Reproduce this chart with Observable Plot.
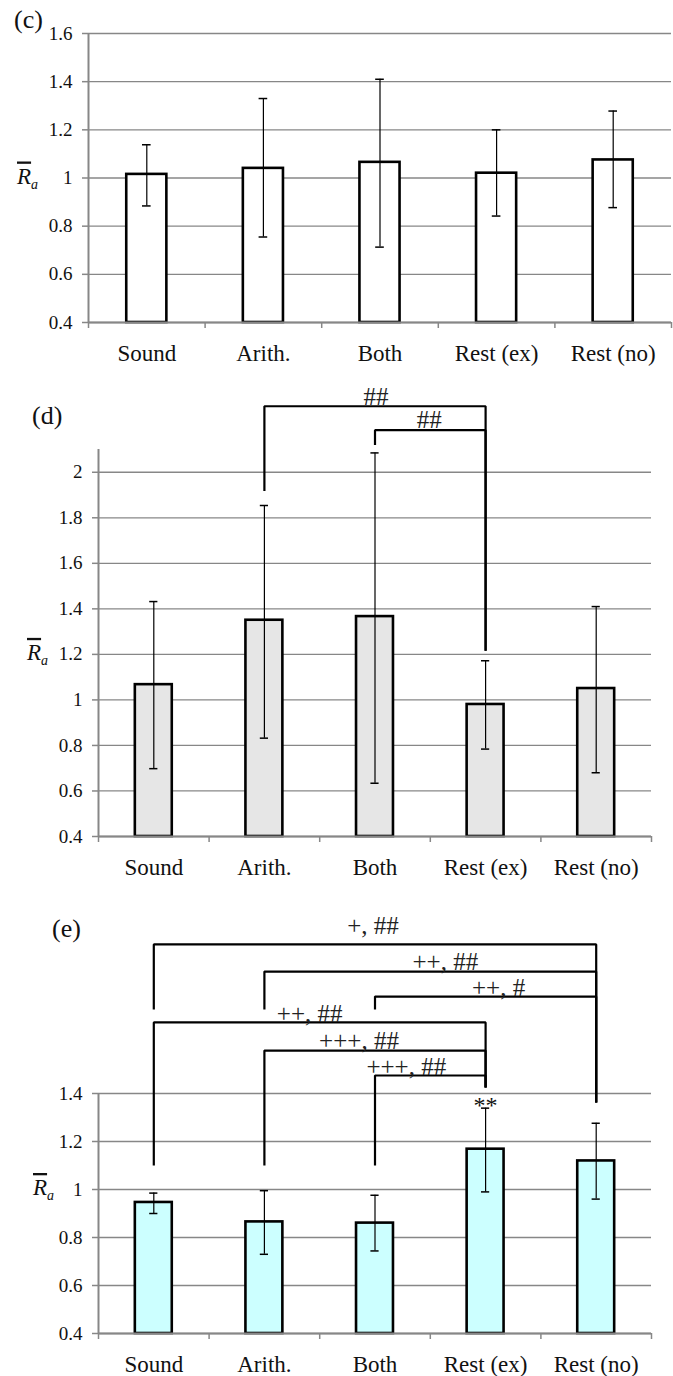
<!DOCTYPE html>
<html>
<head>
<meta charset="utf-8">
<script src="https://cdn.jsdelivr.net/npm/d3@7"></script>
<script src="https://cdn.jsdelivr.net/npm/@observablehq/plot@0.6"></script>
<style>
  body { margin: 0; background: #fff; }
  #chart { width: 673px; }
  #chart svg { display: block; }
</style>
</head>
<body>
<div id="chart"></div>
<script>
// ---------- data ----------
const categories = ["Sound", "Arith.", "Both", "Rest (ex)", "Rest (no)"];

// panel (c)
const meanC = [1.015, 1.040, 1.065, 1.020, 1.075];
const lowC  = [0.884, 0.755, 0.713, 0.842, 0.877];
const highC = [1.138, 1.330, 1.410, 1.200, 1.278];
const ticksC = [0.4, 0.6, 0.8, 1, 1.2, 1.4, 1.6];

// panel (d)
const meanD = [1.067, 1.350, 1.366, 0.980, 1.050];
const lowD  = [0.698, 0.832, 0.634, 0.784, 0.680];
const highD = [1.432, 1.854, 2.085, 1.172, 1.410];
const ticksD = [0.4, 0.6, 0.8, 1, 1.2, 1.4, 1.6, 1.8, 2];
const bracketFromD  = ["Arith.", "Both"];
const bracketToD    = ["Rest (ex)", "Rest (ex)"];
const bracketLevelD = [2.29, 2.185];
const fromEndD      = [1.918, 2.12];
const toEndD        = [1.216, 1.216];
const bracketTextD  = ["##", "##"];

// panel (e)
const meanE = [0.946, 0.865, 0.860, 1.168, 1.119];
const lowE  = [0.900, 0.730, 0.744, 0.990, 0.960];
const highE = [0.985, 0.995, 0.976, 1.339, 1.276];
const starsE = ["", "", "", "**", ""];
const ticksE = [0.4, 0.6, 0.8, 1, 1.2, 1.4];
const bracketFromE  = ["Sound", "Arith.", "Both", "Sound", "Arith.", "Both"];
const bracketToE    = ["Rest (no)", "Rest (no)", "Rest (no)", "Rest (ex)", "Rest (ex)", "Rest (ex)"];
const bracketLevelE = [2.021, 1.908, 1.804, 1.696, 1.579, 1.475];
const fromEndE      = [1.75, 1.75, 1.75, 1.10, 1.10, 1.10];
const toEndE        = [1.3625, 1.3625, 1.3625, 1.425, 1.425, 1.425];
const bracketTextE  = ["+, ##", "++, ##", "++, #", "++, ##", "+++, ##", "+++, ##"];

// ---------- layout / style ----------
const FONT = "'Liberation Serif', 'Times New Roman', serif";
const GRID = "#878787";
const W = 673;

const panels = [
  { tag: "(c)", tagX: 14, tagY: 28, rX: 17, rAt: 1,
    height: 375, mt: 33, mb: 53, ml: 88, mr: 2, domain: [0.4, 1.6], ticks: ticksC,
    mean: meanC, low: lowC, high: highC, fill: "#ffffff", hw: 0.172,
    brackets: [], labelDx: [], labelDy: [] },
  { tag: "(d)", tagX: 32, tagY: 49, rX: 27, rAt: 1.2,
    height: 510, mt: 74, mb: 49, ml: 98, mr: 22, domain: [0.4, 2.1], ticks: ticksD,
    mean: meanD, low: lowD, high: highD, fill: "#e6e6e6", hw: 0.167,
    brackets: bracketFromD.map((f, k) => ({from: f, to: bracketToD[k], level: bracketLevelD[k], fromEnd: fromEndD[k], toEnd: toEndD[k], label: bracketTextD[k]})),
    labelDx: [1, -1], labelDy: [-1, -2] },
  { tag: "(e)", tagX: 52, tagY: 52, rX: 33, rAt: 1,
    height: 491, mt: 208, mb: 43, ml: 98, mr: 22, domain: [0.4, 1.4], ticks: ticksE,
    mean: meanE, low: lowE, high: highE, stars: starsE, fill: "#ccffff", hw: 0.167,
    brackets: bracketFromE.map((f, k) => ({from: f, to: bracketToE[k], level: bracketLevelE[k], fromEnd: fromEndE[k], toEnd: toEndE[k], label: bracketTextE[k]})),
    labelDx: [-2, 15, 13, -10, -16, -24], labelDy: [-10, -2, -1, 0, -2, -1] }
];

const idx = new Map(categories.map((c, i) => [c, i]));
const chart = document.getElementById("chart");

for (const cfg of panels) {
  const rows = categories.map((c, i) => ({
    i, c, mean: cfg.mean[i], low: cfg.low[i], high: cfg.high[i],
    star: cfg.stars ? cfg.stars[i] : ""
  }));
  const pts = cfg.brackets.flatMap((b, k) => [
    {k, x: idx.get(b.from), y: b.fromEnd},
    {k, x: idx.get(b.from), y: b.level},
    {k, x: idx.get(b.to), y: b.level},
    {k, x: idx.get(b.to), y: b.toEnd}
  ]);
  const labels = cfg.brackets.map((b, k) => ({
    x: (idx.get(b.from) + idx.get(b.to)) / 2, y: b.level, text: b.label,
    dx: cfg.labelDx[k], dy: cfg.labelDy[k]
  }));
  const cap = 0.037;
  const base = cfg.domain[0];

  const plot = Plot.plot({
    width: W, height: cfg.height,
    marginTop: cfg.mt, marginBottom: cfg.mb, marginLeft: cfg.ml, marginRight: cfg.mr,
    x: {type: "linear", domain: [-0.5, 4.5], axis: null, label: null},
    y: {type: "linear", domain: cfg.domain, axis: null, label: null},
    style: {fontFamily: FONT, background: "white", overflow: "visible", color: "#111"},
    marks: [
      Plot.gridY(cfg.ticks, {stroke: GRID, strokeOpacity: 1, strokeWidth: 1.3}),
      Plot.ruleX([-0.5], {y1: cfg.domain[0], y2: cfg.domain[1], stroke: GRID, strokeWidth: 2}),
      // y tick marks + labels
      Plot.axisY(cfg.ticks, {tickSize: 6, tickFormat: () => "", stroke: GRID, strokeWidth: 1.5, label: null}),
      Plot.text(cfg.ticks, {x: -0.5, y: d => d, text: d => String(d), textAnchor: "end", dx: -16,
        fontSize: 19, fontFamily: FONT, fill: "#111"}),
      // x boundary ticks + category labels
      Plot.axisX(d3.range(6).map(i => i - 0.5), {tickSize: 6, tickFormat: () => "", stroke: GRID, strokeWidth: 1.5, label: null}),
      Plot.text(d3.range(5), {x: d => d, y: () => base, text: i => categories[i], lineAnchor: "top", dy: 22,
        fontSize: 23, fontFamily: FONT, fill: "#111"}),
      // bars and error bars
      Plot.rect(rows, {x1: d => d.i - cfg.hw, x2: d => d.i + cfg.hw, y1: () => base, y2: "mean",
        fill: cfg.fill, stroke: "#000", strokeWidth: 2.6}),
      Plot.ruleY([base], {stroke: GRID, strokeWidth: 2}),
      Plot.ruleX(rows, {x: "i", y1: "low", y2: "high", stroke: "#000", strokeWidth: 1.2}),
      Plot.ruleY(rows, {y: "high", x1: d => d.i - cap, x2: d => d.i + cap, stroke: "#000", strokeWidth: 1.5}),
      Plot.ruleY(rows, {y: "low", x1: d => d.i - cap, x2: d => d.i + cap, stroke: "#000", strokeWidth: 1.5}),
      Plot.text(rows.filter(d => d.star), {x: "i", y: "high", text: "star", lineAnchor: "bottom", dy: 5,
        fontSize: 24, fontFamily: FONT, fill: "#111"}),
      // significance brackets
      Plot.line(pts, {x: "x", y: "y", z: "k", stroke: "#000", strokeWidth: 2.2, strokeLinejoin: "miter", strokeLinecap: "butt"}),
      ...labels.map(l => Plot.text([l], {x: "x", y: "y", text: "text", dx: l.dx, dy: l.dy,
        lineAnchor: "bottom", fontSize: 25, fontFamily: FONT, fill: "#222"}))
    ]
  });

  const svg = d3.select(plot);
  svg.append("text")
    .attr("x", cfg.tagX).attr("y", cfg.tagY)
    .attr("text-anchor", "start")
    .attr("font-family", FONT).attr("font-size", 26).attr("fill", "#111")
    .text(cfg.tag);
  const yScale = plot.scale("y");
  const ry = yScale.apply(cfg.rAt) + 6;
  const t = svg.append("text")
    .attr("x", cfg.rX).attr("y", ry)
    .attr("text-anchor", "start")
    .attr("font-family", FONT).attr("font-size", 23).attr("font-style", "italic").attr("fill", "#111");
  t.append("tspan").style("text-decoration", "overline").text("R");
  t.append("tspan").attr("dy", 5).attr("font-size", 14).text("a");

  chart.appendChild(plot);
}
</script>
</body>
</html>
